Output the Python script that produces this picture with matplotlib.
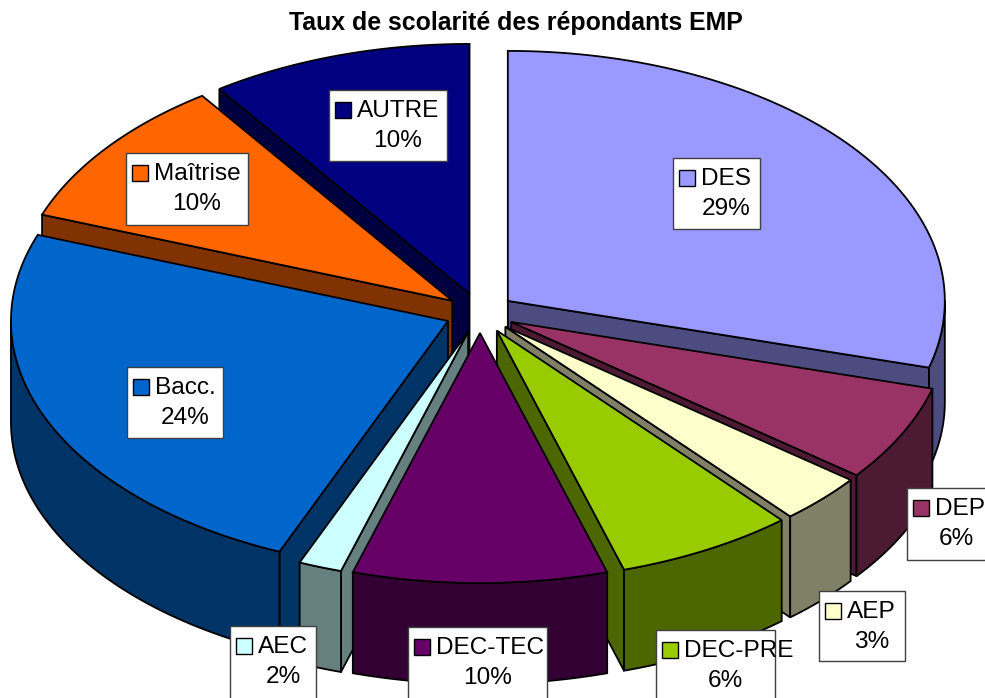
import numpy as np
import matplotlib
matplotlib.use("Agg")
import matplotlib.pyplot as plt
from matplotlib.patches import Polygon, Rectangle

plt.rcParams["font.family"] = ["Liberation Sans", "DejaVu Sans"]

# === Data (clockwise from 12 o'clock) ===
labels = ["DES", "DEP", "AEP", "DEC-PRE", "DEC-TEC", "AEC", "Bacc.", "Maîtrise", "AUTRE"]
percents = [29.3, 6.2, 3.2, 6.6, 9.4, 1.6, 24.3, 9.7, 9.7]
shown = ["29%", "6%", "3%", "6%", "10%", "2%", "24%", "10%", "10%"]
colors = ["#9999FF", "#993366", "#FFFFCC", "#99CC00", "#660066",
          "#CCFFFF", "#0066CC", "#FF6600", "#000080"]
sides = ["#4C4C80", "#4D1A33", "#808066", "#4C6600", "#330033",
         "#668080", "#003366", "#803300", "#000040"]

# label boxes: left, top, right, bottom in pixels
boxes = [(673, 158, 760, 229), (907, 488, 986, 560), (819, 591, 905, 661),
         (656, 630, 775, 699), (408, 627, 547, 699), (230, 626, 316, 699),
         (127, 367, 223, 438), (126, 153, 248, 225), (329, 90, 447, 161)]

# pie geometry in pixels
cx, cy = 480, 313
a, b = 437, 250
depth = 101
explode = 0.08
lw = 1.3


def pt(theta, r, off):
    return (cx + off[0] + r * a * np.sin(theta), cy + off[1] - r * b * np.cos(theta))


fig = plt.figure(figsize=(9.85, 6.98), dpi=100)
ax = fig.add_axes([0, 0, 1, 1])
ax.set_xlim(0, 985)
ax.set_ylim(698, 0)
ax.axis("off")

edges = np.radians(np.cumsum([0] + percents) * 3.6)
slices = []
for i in range(len(labels)):
    t0, t1 = edges[i], edges[i + 1]
    mid = (t0 + t1) / 2
    off = (explode * a * np.sin(mid), -explode * b * np.cos(mid))
    slices.append((t0, t1, off, i))

# paint from the back of the pie to the front
slices.sort(key=lambda s: pt((s[0] + s[1]) / 2, 0.6, s[2])[1])

z = 2
for t0, t1, off, i in slices:
    tip = pt(0, 0, off)
    ts = np.linspace(t0, t1, 80)
    arc = [pt(t, 1, off) for t in ts]

    # cut faces, only the ones turned towards the viewer
    for edge_pt, facing in ((arc[0], t0 > np.pi), (arc[-1], t1 < np.pi)):
        if facing:
            wall = [tip, edge_pt, (edge_pt[0], edge_pt[1] + depth), (tip[0], tip[1] + depth)]
            ax.add_patch(Polygon(wall, closed=True, fc=sides[i], ec="black", lw=lw, zorder=z))
            z += 1

    # outer rim, front half only
    lo, hi = max(t0, np.pi / 2), min(t1, 3 * np.pi / 2)
    if hi > lo:
        rim = [pt(t, 1, off) for t in np.linspace(lo, hi, 80)]
        low = [(x, y + depth) for x, y in rim[::-1]]
        ax.add_patch(Polygon(rim + low, closed=True, fc=sides[i], ec="black", lw=lw, zorder=z))
        z += 1

    ax.add_patch(Polygon([tip] + arc, closed=True, fc=colors[i], ec="black", lw=lw,
                         joinstyle="miter", zorder=z))
    z += 1

# === Data labels ===
for i, (x0, y0, x1, y1) in enumerate(boxes):
    ax.add_patch(Rectangle((x0, y0), x1 - x0, y1 - y0, fc="white", ec="#404040", lw=1, zorder=100))
    ax.add_patch(Rectangle((x0 + 6, y0 + 12), 16, 16, fc=colors[i], ec="black", lw=1, zorder=101))
    ax.text(x0 + 28, y0 + 21, labels[i], fontsize=17.6, ha="left", va="center", zorder=101)
    ax.text((x0 + x1) / 2 + 10, y0 + 51, shown[i], fontsize=17.6, ha="center", va="center", zorder=101)

ax.text(516, 23, "Taux de scolarité des répondants EMP", fontsize=17.9, fontweight="bold",
        ha="center", va="center")

fig.savefig("out.png", dpi=100)
